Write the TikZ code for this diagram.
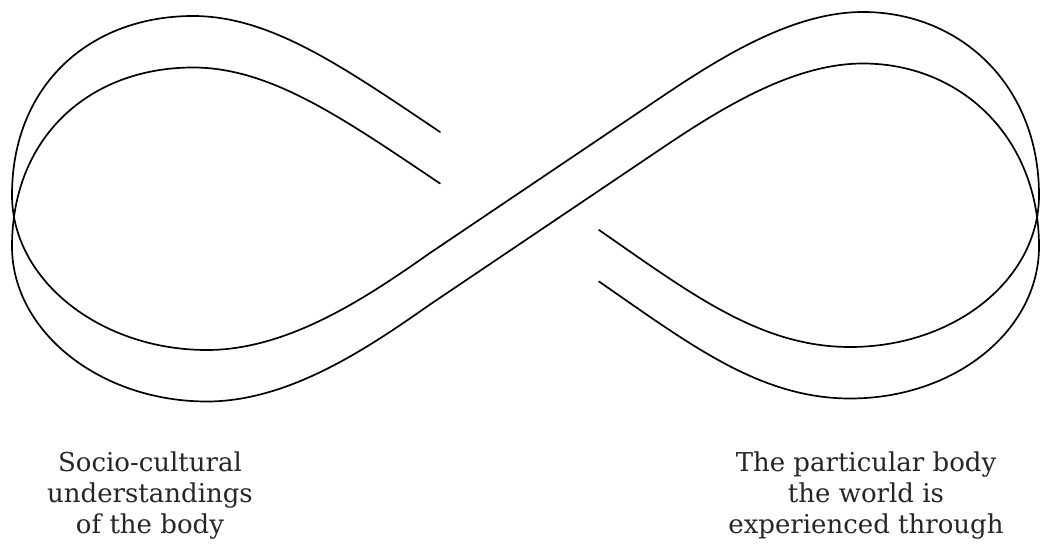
\documentclass[tikz,border=0pt]{standalone}
\usepackage{fontspec}
\setmainfont{DejaVu Serif}
\begin{document}
\begin{tikzpicture}[x=1pt,y=-1pt,
  bandedge/.style={draw=black,line width=1.7pt,line cap=round,line join=round},
  captext/.style={align=center,inner sep=0pt,font=\fontsize{26}{31}\selectfont,text=black!85}]
\useasboundingbox (0,0) rectangle (1040,545);
\foreach \dy in {0,51.5}{
  \draw[bandedge,shift={(0,\dy)}]
    (440,132) .. controls (342,66) and (270,16) .. (193,16)
    .. controls (90,16) and (12,85) .. (12,195)
    .. controls (12,280) and (100,350) .. (207,350)
    .. controls (290,350) and (370,295) .. (430,253)
    -- (660,98)
    .. controls (725,54) and (795,12) .. (863,12)
    .. controls (960,12) and (1039,85) .. (1039,195)
    .. controls (1039,279) and (955,347) .. (850,347)
    .. controls (760,347) and (690,293) .. (599,230);
}
\node[captext,anchor=base] (left) at (150,533) {Socio-cultural\\understandings\\of the body};
\node[captext,anchor=base] (right) at (866,533) {The particular body\\the world is\\experienced through};
\end{tikzpicture}
\end{document}
